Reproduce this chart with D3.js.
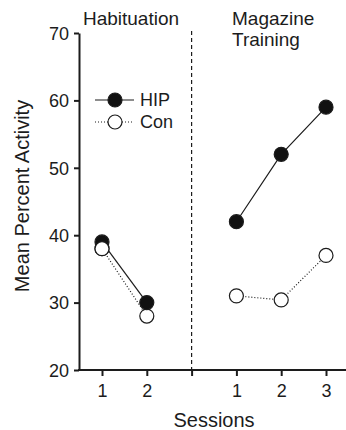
<!DOCTYPE html>
<html>
<head>
<meta charset="utf-8">
<script src="https://cdn.jsdelivr.net/npm/d3@7"></script>
<style>
  body { margin: 0; background: #fff; }
  text { font-family: "Liberation Sans", Arial, sans-serif; fill: #1c1c1c; }
</style>
</head>
<body>
<script>
// slots along x: two habituation sessions, a gap for the divider, three magazine sessions
const slots = ["h1", "h2", "gap", "m1", "m2", "m3"];
const slotLabels = ["1", "2", "", "1", "2", "3"];
const yTicks = [20, 30, 40, 50, 60, 70];

const hipHab = [39, 30];
const conHab = [38, 28];
const hipMag = [42, 52, 59];
const conMag = [31, 30.4, 37];

const svg = d3.select("body").append("svg")
    .attr("width", 346)
    .attr("height", 430);

const x = d3.scalePoint().domain(slots).range([102, 326]);
const y = d3.scaleLinear().domain([20, 70]).range([370, 33]);

// axes
const yAxis = svg.append("g")
    .attr("transform", "translate(79,0)")
    .call(d3.axisLeft(y).tickValues(yTicks).tickSize(5).tickSizeOuter(0).tickPadding(5));
yAxis.select(".domain").attr("stroke", "#1c1c1c").attr("stroke-width", 2);
yAxis.selectAll(".tick line").attr("stroke", "#1c1c1c").attr("stroke-width", 2);
yAxis.selectAll(".tick text").style("font-size", "18px").attr("dy", "0.35em");

const xAxis = svg.append("g")
    .attr("transform", "translate(0,370)")
    .call(d3.axisBottom(x).tickFormat((d, i) => slotLabels[i]).tickSize(6).tickPadding(8));
xAxis.select(".domain").remove();
xAxis.selectAll(".tick line").attr("stroke", "#1c1c1c").attr("stroke-width", 2);
xAxis.selectAll(".tick text").style("font-size", "18px");
svg.append("line")
    .attr("x1", 78).attr("x2", 346)
    .attr("y1", 370).attr("y2", 370)
    .attr("stroke", "#1c1c1c").attr("stroke-width", 2);

// divider between phases
svg.append("line")
    .attr("x1", x("gap")).attr("x2", x("gap"))
    .attr("y1", y(70) - 2).attr("y2", y(20))
    .attr("stroke", "#1c1c1c").attr("stroke-width", 1.2)
    .attr("stroke-dasharray", "4,3");

// titles
svg.append("text")
    .attr("x", 131).attr("y", 25)
    .attr("text-anchor", "middle")
    .style("font-size", "19px")
    .text("Habituation");
svg.append("text")
    .attr("x", 232).attr("y", 25)
    .style("font-size", "19px")
    .text("Magazine");
svg.append("text")
    .attr("x", 232).attr("y", 46)
    .style("font-size", "19px")
    .text("Training");

svg.append("text")
    .attr("x", 214).attr("y", 427)
    .attr("text-anchor", "middle")
    .style("font-size", "20px")
    .text("Sessions");
svg.append("text")
    .attr("transform", "translate(29,196) rotate(-90)")
    .attr("text-anchor", "middle")
    .style("font-size", "20px")
    .text("Mean Percent Activity");

const line = d3.line().x(d => x(d.s)).y(d => y(d.v));
const toPts = (keys, vals) => vals.map((v, i) => ({ s: keys[i], v: v }));

const series = [
  { pts: toPts(["h1", "h2"], conHab), fill: "#fff", dash: "1,2" },
  { pts: toPts(["m1", "m2", "m3"], conMag), fill: "#fff", dash: "1,2" },
  { pts: toPts(["h1", "h2"], hipHab), fill: "#111", dash: null },
  { pts: toPts(["m1", "m2", "m3"], hipMag), fill: "#111", dash: null }
];

series.forEach(s => {
  svg.append("path")
      .attr("d", line(s.pts))
      .attr("fill", "none")
      .attr("stroke", "#1c1c1c")
      .attr("stroke-width", 1.2)
      .attr("stroke-dasharray", s.dash);
});
series.forEach(s => {
  svg.append("g").selectAll("circle")
      .data(s.pts)
      .enter()
      .append("circle")
      .attr("cx", d => x(d.s))
      .attr("cy", d => y(d.v))
      .attr("r", 7)
      .attr("fill", s.fill)
      .attr("stroke", "#1c1c1c")
      .attr("stroke-width", 1.2);
});
// open circle sits on top of filled at habituation session 1
svg.append("circle")
    .attr("cx", x("h1")).attr("cy", y(conHab[0])).attr("r", 7)
    .attr("fill", "#fff").attr("stroke", "#1c1c1c").attr("stroke-width", 1.2);

// legend
const legend = [
  { name: "HIP", fill: "#111", dash: null, y: 100 },
  { name: "Con", fill: "#fff", dash: "1,2", y: 122 }
];
legend.forEach(l => {
  svg.append("line")
      .attr("x1", 95).attr("x2", 134)
      .attr("y1", l.y).attr("y2", l.y)
      .attr("stroke", "#1c1c1c").attr("stroke-width", 1.2)
      .attr("stroke-dasharray", l.dash);
  svg.append("circle")
      .attr("cx", 115).attr("cy", l.y).attr("r", 7)
      .attr("fill", l.fill).attr("stroke", "#1c1c1c").attr("stroke-width", 1.2);
  svg.append("text")
      .attr("x", 140).attr("y", l.y + 6)
      .style("font-size", "18px")
      .text(l.name);
});
</script>
</body>
</html>
